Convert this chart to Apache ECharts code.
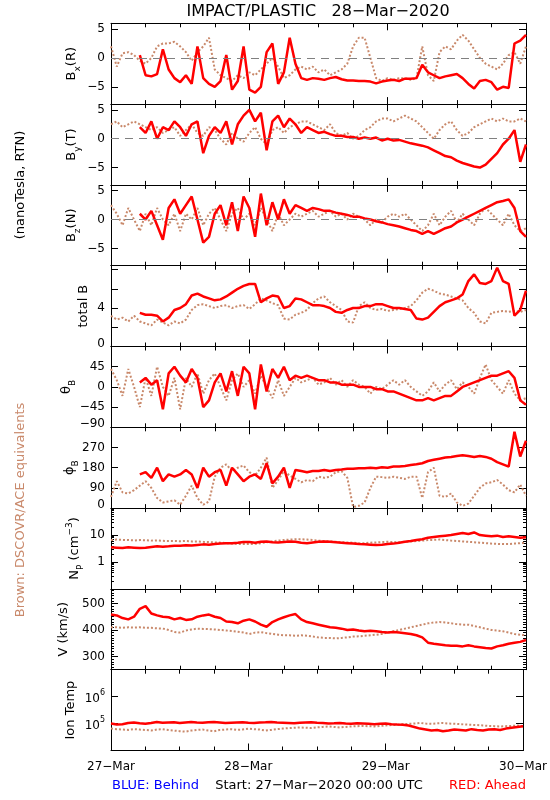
<!DOCTYPE html>
<html><head><meta charset="utf-8">
<script src="https://cdn.jsdelivr.net/npm/echarts@6/dist/echarts.min.js"></script>
<style>html,body{margin:0;padding:0;background:#fff}#c{width:550px;height:800px}</style>
</head><body><div id="c"></div>
<script>
// ---------- DATA (hourly values, hour 0 = 27-Mar-2020 00:00 UTC) ----------
const hours = [0,1,2,3,4,5,6,7,8,9,10,11,12,13,14,15,16,17,18,19,20,21,22,23,24,25,26,27,28,29,30,31,32,33,34,35,36,37,38,39,40,41,42,43,44,45,46,47,48,49,50,51,52,53,54,55,56,57,58,59,60,61,62,63,64,65,66,67,68,69,70,71,72];
const dayTicks = [0,24,48,72];
const dayLabels = ['27−Mar','28−Mar','29−Mar','30−Mar'];
const bTicks = [-5,0,5];
const btTicks = [0,2,4,6,8];
const btLabels = [0,4];
const thTicks = [-90,-45,0,45,90];
const thLabels = [-90,-45,0,45];
const phTicks = [0,90,180,270,360];
const phLabels = [0,90,180,270];
const npLabels = [1,10];
const npMinor = [0.2,0.3,0.4,0.5,0.6,0.7,0.8,0.9,2,3,4,5,6,7,8,9,20,30,40,50,60,70,80,90];
const vLabels = [300,400,500];
const vMinor = [260,270,280,290,310,320,330,340,350,360,370,380,390,410,420,430,440,450,460,470,480,490,510,520,530,540,550];
const tLabels = [1e5,1e6];

// Red: STEREO Ahead ; Brown: DSCOVR/ACE equivalents
const bxAhead = [null,null,null,null,null,0.5,-3,-3.2,-2.8,1.5,-2,-3.5,-4.2,-3,-4.5,2,-3.5,-4.5,-5,-4,0.5,-5.5,-4,2,-5.5,-6,-5,1,2.5,-4.5,-2.5,3.5,-1,-3.5,-3.8,-3.5,-3.6,-3.8,-3.5,-3.3,-3.7,-3.9,-3.9,-4,-4,-4.1,-4.4,-4.1,-3.9,-3.8,-4,-3.6,-3.6,-3.5,-1.2,-2.5,-3,-3.5,-3.2,-3,-2.8,-3.5,-4.5,-5.3,-4,-3.8,-4.2,-5.5,-5,-5.2,2.5,3,4];
const bxEquiv = [2,-1.5,0.8,1,0.5,-0.5,-1,0,2,2.5,2.5,2.8,2,1,-0.5,1,2,3.5,-2,-3,-3.5,-4,-3,-3.5,-2.5,-3,-2,-1,0,-1.5,-3.5,-3,-2,-1.5,-2,-1.5,-2.5,-2,-3,-2.5,-2,-1,2,3.5,3.5,0,-3.5,-4,-3.5,-3.8,-3.5,-3.5,-3.8,-3.5,2,-3,-4,1,2,1.5,3,4,3,1.5,0,-1,-1.5,-2,-1,0.5,1,-1,2];
const byAhead = [null,null,null,null,null,2,1,3,0,2,1.5,3,2,0.5,2.5,3,-2.5,0.5,2,1,3,-1,2.5,4,5,3,4.5,-2,3,4,2,3.5,2.5,1,2,1.5,1,1.2,0.8,0.5,0.5,0.3,0.3,0,0.2,0,0.2,-0.3,0,-0.3,-0.2,-0.5,-0.8,-1,-1.2,-1.5,-2,-2.5,-3,-3.2,-3.8,-4.2,-4.5,-4.8,-5,-4.5,-3.5,-2.5,-1,0,1.5,-4,-1];
const byEquiv = [2.5,3,2,2.5,3,2.5,2,1.5,2,1,1.5,2,0.5,1.5,2.5,1,0.5,2,1.5,0,-1,1,0,-0.5,1,2,0,-1,1.5,2,1,2,2.5,3,3,2.5,2,1.5,2.5,1,0.5,1,0,0.5,1.5,2,3,3.5,3.5,3,3.5,4,3.5,3,2,1,0,1.5,2.5,3,1.5,0.5,1,2,2.5,3,3.5,3,3.5,3,3,3.5,3];
const bzAhead = [null,null,null,null,null,1,0,1.5,-1,-3.5,2,3.5,1,2.5,4,0,-4,-3,1,2.5,-1,3,-2,4,2,-3,4.5,-1,3,0,3.5,1,2.5,2,1.5,2,1.8,1.5,1.5,1.2,1,0.8,0.5,0.5,0.2,0,-0.3,-0.5,-0.8,-1,-1.2,-1.5,-1.8,-2,-2.5,-2,-2.5,-2,-1.5,-1.2,-0.5,0,0.5,1,1.5,2,2.5,3,3.2,3.5,2,-2,-3];
const bzEquiv = [2.5,1,-1,2,0,-2,1,-1,2,0,-1,1,-2,1,0,2,-1,1,2,0,-2,1,2,0,1,-1,2,0,-2,1,-1,0,1,0.5,1,1.5,0.5,1,1.5,0.5,1,0,1,0.5,0,-1,0,-0.5,0.5,1,0.5,1,0,-1,-2,-1,1,-1,0.5,1.5,-0.5,1,0,-1,1,2,1,0,-1,1,-1,-2,-1.5];
const btAhead = [null,null,null,null,null,3.5,3.3,3.3,3.2,2.6,3.0,3.8,4.0,4.4,5.3,5.5,5.2,5.0,4.8,4.9,5.2,5.6,6.0,6.3,6.5,6.5,4.6,5.0,5.3,5.2,4.0,4.2,5.0,4.9,4.6,4.3,4.3,4.2,4.0,3.6,3.5,3.8,4.0,4.0,4.2,4.2,4.4,4.4,4.2,4.0,4.0,3.9,3.8,2.9,2.8,3.0,3.6,4.2,4.6,4.8,5.0,5.4,6.8,7.5,6.6,6.5,6.8,8.2,6.8,6.5,3.2,3.8,5.8];
const btEquiv = [3.2,2.8,3.0,2.6,3.2,2.6,2.4,2.2,2.8,2.5,2.2,2.6,2.4,2.8,3.8,4.3,4.4,4.2,4.0,4.2,4.3,4.0,4.2,4.3,3.9,4.4,5.0,4.8,4.5,4.3,2.9,2.8,3.3,3.5,3.8,4.5,5.0,5.2,4.6,4.2,3.8,2.6,2.5,4.2,4.6,4.0,3.8,3.9,3.7,3.8,3.9,4.0,4.2,4.8,5.6,6.0,5.8,5.5,5.4,5.2,5.0,4.8,4.0,3.5,2.6,2.4,3.5,3.6,3.7,3.6,3.7,3.6,3.8];
const thAhead = [null,null,null,null,null,10,20,5,15,-50,30,45,25,10,40,20,-45,-30,10,30,-10,35,-20,45,30,-50,50,-10,40,20,45,15,25,20,25,20,15,15,10,10,5,5,5,0,0,0,-5,-5,-10,-10,-15,-20,-25,-30,-30,-25,-30,-25,-20,-20,-10,0,5,10,15,20,25,25,30,35,20,-30,-40];
const thEquiv = [40,15,-20,40,0,-45,20,-20,45,0,-20,20,-50,20,0,30,-15,15,30,0,-30,15,30,0,15,-15,25,0,-25,15,-20,0,20,10,15,20,5,10,20,5,15,0,15,5,0,-15,0,-5,5,15,5,15,0,-10,-20,-10,10,-10,5,15,-5,10,0,-15,20,50,15,0,-15,15,-15,-30,-25];
const phAhead = [null,null,null,null,null,150,160,135,180,120,150,140,150,170,150,90,180,140,160,170,100,180,150,120,140,150,130,200,110,140,180,90,170,165,160,165,165,170,165,170,172,175,175,178,178,180,178,182,180,185,185,188,192,195,200,210,215,220,225,228,232,235,232,228,232,228,220,205,195,185,340,230,300];
const phEquiv = [50,120,70,65,80,100,120,90,45,25,30,35,15,55,100,45,15,30,140,180,195,165,180,190,160,145,180,225,90,125,165,145,130,115,125,120,140,135,140,160,165,135,5,10,25,90,140,138,135,140,135,130,140,140,45,160,180,55,50,65,25,10,20,55,90,110,115,125,105,80,70,105,55];
const npAhead = [3.5,3.4,3.3,3.5,3.4,3.3,3.4,3.6,3.8,3.7,3.8,4.0,4.0,4.2,4.1,4.3,4.5,4.4,4.6,4.8,5.0,5.0,5.2,5.5,5.5,5.2,5.6,5.8,5.4,5.3,5.5,5.8,5.6,5.2,5.0,5.3,5.6,5.8,5.6,5.4,5.2,5.0,4.8,4.6,4.5,4.4,4.3,4.4,4.6,4.8,5.2,5.6,6.0,6.5,7.0,8.0,8.5,9.0,9.5,10,11,12,11,12.5,10,9.5,9.0,9.5,8.5,9.0,8.5,8.0,8.2];
const npEquiv = [6.5,6.8,6.6,6.5,6.3,6.5,6.4,6.2,6.3,6.1,6.0,6.0,5.9,6.0,5.8,5.8,5.6,5.5,5.3,5.2,5.0,4.8,4.7,4.6,4.6,4.7,5.0,5.4,5.8,6.2,6.5,6.8,7.0,7.0,6.8,6.5,6.2,6.0,5.8,5.6,5.4,5.3,5.2,5.0,5.0,5.2,5.3,5.5,5.6,5.5,5.4,5.6,5.8,6.0,6.2,6.5,6.6,6.8,6.5,6.2,6.0,5.8,5.6,5.4,5.2,5.0,4.8,4.7,4.6,4.6,4.8,5.0,5.2];
const vAhead = [458,455,445,440,450,480,490,462,455,450,448,440,445,438,440,450,455,458,450,445,432,430,425,435,440,432,420,412,430,440,448,455,460,440,430,425,420,415,410,408,405,400,402,398,395,397,395,392,390,392,390,388,385,380,372,352,348,345,342,340,340,338,342,338,335,332,330,338,342,348,352,355,362];
const vEquiv = [410,410,408,410,409,410,408,408,406,405,400,392,390,398,402,405,404,403,402,400,398,396,393,390,385,390,392,388,385,382,380,380,378,380,378,375,372,370,370,368,370,372,375,376,378,380,382,385,390,395,400,405,410,415,420,425,428,430,428,425,422,420,420,415,410,405,400,398,395,390,385,382,380];
const tAhead = [100e3,92e3,95e3,105e3,110e3,102e3,98e3,105e3,115e3,108e3,110e3,112e3,105e3,110e3,115e3,110e3,108e3,112e3,115e3,110e3,105e3,108e3,110e3,112e3,108e3,105e3,110e3,112e3,115e3,110e3,108e3,105e3,102e3,108e3,110e3,112e3,108e3,105e3,100e3,102e3,105e3,100e3,98e3,102e3,100e3,98e3,95e3,98e3,100e3,95e3,92e3,90e3,85e3,75e3,65e3,60e3,55e3,58e3,52e3,55e3,60e3,58e3,55e3,62e3,58e3,55e3,60e3,62e3,58e3,65e3,70e3,75e3,80e3];
const tEquiv = [65e3,62e3,60e3,58e3,62e3,60e3,58e3,55e3,60e3,62e3,58e3,55e3,52e3,50e3,55e3,58e3,60e3,55e3,52e3,58e3,60e3,62e3,58e3,60e3,65e3,62e3,60e3,55e3,58e3,62e3,65e3,68e3,70e3,72e3,70e3,68e3,72e3,75e3,78e3,75e3,72e3,75e3,78e3,80e3,82e3,80e3,78e3,82e3,85e3,88e3,90e3,95e3,98e3,100e3,105e3,100e3,98e3,102e3,105e3,100e3,98e3,95e3,92e3,90e3,88e3,85e3,82e3,80e3,78e3,80e3,82e3,85e3,80e3];

// ---------- LAYOUT / STYLE ----------
const FONT = 'DejaVu Sans';
const BROWN = '#c9896b', RED = '#ff0000';
const TOP0 = 23.3, PH = 80.8, LEFT = 111, W = 415;
const minus = v => (v < 0 ? '−' + Math.abs(v) : String(v));
const pow10 = v => '{b|10}{q|' + Math.round(Math.log10(v)) + '}';
const nameRich = {
  a: {fontSize: 13, fontFamily: FONT, color: '#000', lineHeight: 20, verticalAlign: 'middle'},
  s: {fontSize: 9, fontFamily: FONT, color: '#000', lineHeight: 9, verticalAlign: 'bottom'},
  p: {fontSize: 9, fontFamily: FONT, color: '#000', lineHeight: 9, verticalAlign: 'top'}
};
const labelRich = {
  n: {fontSize: 12, fontFamily: FONT, color: '#000'},
  b: {fontSize: 12, fontFamily: FONT, color: '#000', lineHeight: 16, verticalAlign: 'bottom'},
  q: {fontSize: 8, fontFamily: FONT, color: '#000', lineHeight: 16, verticalAlign: 'top'}
};

const panels = [
  {name: '{a|B}{s|x}{a|(R)}', gap: 29, min: -8, max: 6, ticks: bTicks, labels: bTicks, fmt: minus, zero: true, red: bxAhead, brown: bxEquiv},
  {name: '{a|B}{s|y}{a|(T)}', gap: 29, min: -8, max: 6, ticks: bTicks, labels: bTicks, fmt: minus, zero: true, red: byAhead, brown: byEquiv},
  {name: '{a|B}{s|z}{a|(N)}', gap: 29, min: -8, max: 6, ticks: bTicks, labels: bTicks, fmt: minus, zero: true, red: bzAhead, brown: bzEquiv},
  {name: '{a|total B}', gap: 17, min: 0, max: 8.4, ticks: btTicks, labels: btLabels, fmt: minus, red: btAhead, brown: btEquiv},
  {name: '{a|θ}{s|B}', gap: 34, min: -90, max: 90, ticks: thTicks, labels: thLabels, fmt: minus, red: thAhead, brown: thEquiv},
  {name: '{a|ϕ}{s|B}', gap: 31, min: 0, max: 360, ticks: phTicks, labels: phLabels, fmt: minus, red: phAhead, brown: phEquiv},
  {name: '{a|N}{s|P}{a| (cm}{p|−3}{a|)}', gap: 26, log: true, min: 0.1, max: 100, labels: npLabels, fmt: String, minor: npMinor, red: npAhead, brown: npEquiv},
  {name: '{a|V (km/s)}', gap: 37, min: 250, max: 555, ticks: vLabels, labels: vLabels, fmt: minus, minor: vMinor, red: vAhead, brown: vEquiv},
  {name: '{a|Ion Temp}', gap: 30, log: true, min: 1e4, max: 1e7, labels: tLabels, fmt: pow10, red: tAhead, brown: tEquiv}
];

const grids = [], xAxes = [], yAxes = [], series = [];
const lineBlack = {color: '#000', width: 1};
panels.forEach((p, i) => {
  const top = TOP0 + i * PH;
  const last = i === panels.length - 1;
  grids.push({left: LEFT, top: top, width: W, height: PH});
  const xBase = {gridIndex: i, type: 'value', min: 0, max: 72, interval: 24,
    axisLine: {onZero: false, lineStyle: lineBlack},
    axisTick: {inside: true, length: 7, lineStyle: lineBlack},
    minorTick: {show: true, splitNumber: 4, length: 4, lineStyle: lineBlack},
    splitLine: {show: false}, minorSplitLine: {show: false}};
  const xi = xAxes.length;
  xAxes.push(Object.assign({}, xBase, {position: 'bottom',
    axisLabel: {show: last, margin: 10, fontSize: 12, fontFamily: FONT, color: '#000',
      showMinLabel: true, showMaxLabel: true, hideOverlap: false,
      formatter: v => { const k = dayTicks.indexOf(v); return k >= 0 ? dayLabels[k] : ''; }}}));
  xAxes.push(Object.assign({}, xBase, {position: 'top', axisLabel: {show: false}}));

  const yBase = {gridIndex: i, type: p.log ? 'log' : 'value', min: p.min, max: p.max,
    axisLine: {onZero: false, lineStyle: lineBlack}, splitLine: {show: false}, axisLabel: {show: false}};
  const tick = {inside: true, length: 7, lineStyle: lineBlack};
  if (p.ticks) tick.customValues = p.ticks;
  const yi = yAxes.length;
  p.yi = yi;
  yAxes.push(Object.assign({}, yBase, {position: 'left', axisTick: tick,
    name: p.name, nameLocation: 'middle', nameRotate: 90, nameGap: p.gap,
    nameTextStyle: {rich: nameRich}}));
  yAxes.push(Object.assign({}, yBase, {position: 'right', axisTick: tick}));
  if (p.minor) {
    const mt = {inside: true, length: 3, lineStyle: lineBlack, customValues: p.minor};
    yAxes.push(Object.assign({}, yBase, {position: 'left', axisLine: {show: false, onZero: false}, axisTick: mt}));
    yAxes.push(Object.assign({}, yBase, {position: 'right', axisLine: {show: false, onZero: false}, axisTick: mt}));
  }
  const brown = {type: 'line', xAxisIndex: xi, yAxisIndex: yi, showSymbol: false, symbol: 'none',
    data: hours.map((h, k) => [h, p.brown[k]]),
    lineStyle: {color: BROWN, width: 2, type: [2, 2]}, itemStyle: {color: BROWN}, z: 2};
  if (p.zero) {
    brown.markLine = {silent: true, symbol: 'none', label: {show: false},
      lineStyle: {color: '#808080', type: [8, 6], width: 1}, data: [{yAxis: 0}]};
  }
  series.push(brown);
  series.push({type: 'line', xAxisIndex: xi, yAxisIndex: yi, showSymbol: false, symbol: 'none',
    data: hours.map((h, k) => [h, p.red[k]]),
    lineStyle: {color: RED, width: 2.5}, itemStyle: {color: RED}, z: 3});
});

const txt = (x, y, text, opt) => ({type: 'text', x: x, y: y,
  style: Object.assign({text: text, fill: '#000', font: '13px "DejaVu Sans"',
    align: 'center', verticalAlign: 'middle', textAlign: 'center', textVerticalAlign: 'middle'}, opt || {})});

const graphic = [
  txt(318, 12, 'IMPACT/PLASTIC   28−Mar−2020', {font: '16px "DejaVu Sans"'}),
  Object.assign(txt(21, 185, '(nanoTesla, RTN)'), {rotation: Math.PI / 2}),
  Object.assign(txt(21, 510, 'Brown: DSCOVR/ACE equivalents', {fill: BROWN}), {rotation: Math.PI / 2}),
  txt(112, 786, 'BLUE: Behind', {fill: '#0000ff', align: 'left', textAlign: 'left'}),
  txt(319, 786, 'Start: 27−Mar−2020 00:00 UTC'),
  txt(526, 786, 'RED: Ahead', {fill: RED, align: 'right', textAlign: 'right'})
];

const chart = echarts.init(document.getElementById('c'), null, {renderer: 'canvas'});
chart.setOption({
  animation: false,
  backgroundColor: '#fff',
  grid: grids, xAxis: xAxes, yAxis: yAxes, series: series, graphic: graphic
});

// y tick labels placed through each axis' own scale (labels at the axis floor sit a little inside)
const tickLabels = [];
panels.forEach(p => {
  p.labels.forEach(v => {
    let y = chart.convertToPixel({yAxisIndex: p.yi}, v);
    if (v === p.min) y -= 3;
    const s = p.fmt(v);
    tickLabels.push({type: 'text', x: LEFT - 6, y: y, z: 50, silent: true,
      style: {text: s.indexOf('{') === 0 ? s : '{n|' + s + '}', fill: '#000', rich: labelRich,
        align: 'right', verticalAlign: 'middle', textAlign: 'right', textVerticalAlign: 'middle'}});
  });
});
chart.setOption({graphic: graphic.concat(tickLabels)});
</script></body></html>
